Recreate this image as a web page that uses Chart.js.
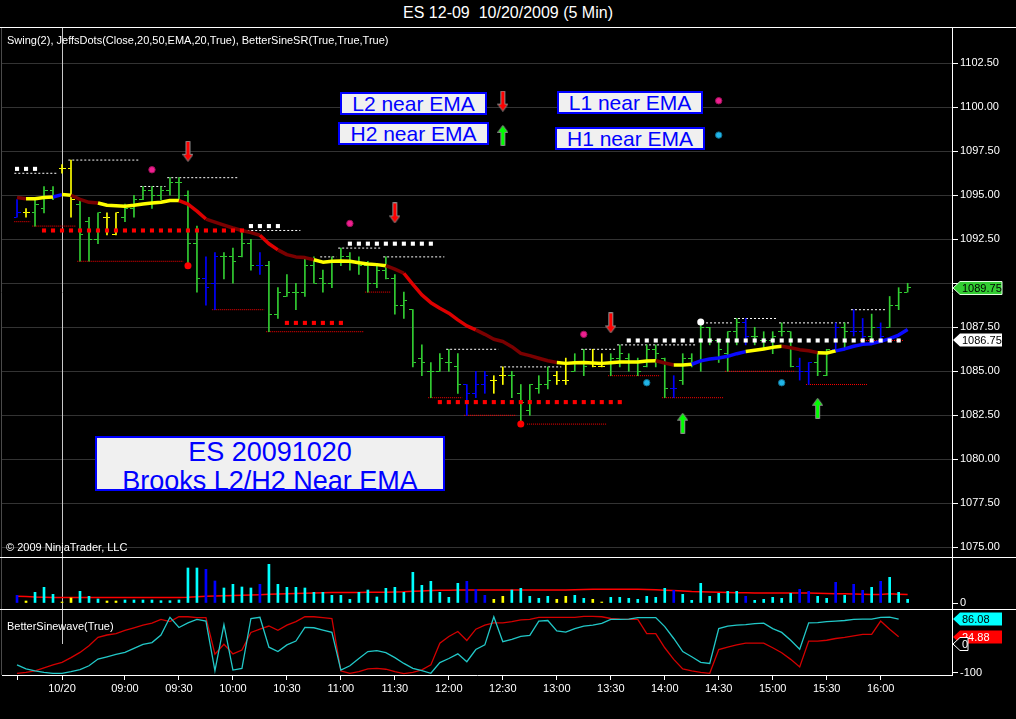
<!DOCTYPE html>
<html>
<head>
<meta charset="utf-8">
<title>ES 12-09 10/20/2009 (5 Min)</title>
<script src="https://cdn.jsdelivr.net/npm/chart.js@4.4.0/dist/chart.umd.min.js"></script>
<style>
  body { margin: 0; background: #000; width: 1016px; height: 719px; overflow: hidden; position: relative;
         font-family: "Liberation Sans", Arial, sans-serif; color: #fff; }
  .panel { position: absolute; left: 0; width: 1016px; }
  #price-panel { top: 27px; height: 530px; }
  #volume-panel { top: 557px; height: 52px; }
  #sine-panel { top: 609px; height: 110px; }
  #title { position: absolute; top: 4px; left: 0; width: 1016px; text-align: center; font-size: 16px; white-space: pre; }
  .label { position: absolute; font-size: 11px; color: #fff; white-space: pre; }
  .note { position: absolute; box-sizing: border-box; background: #f0f0f0; border: 2px solid #0000ff;
          color: #0000ff; font-size: 21px; line-height: 19px; text-align: center; white-space: pre; }
  #es-note { font-size: 27px; line-height: 29px; overflow: hidden; }
</style>
</head>
<body>
<div id="title">ES 12-09  10/20/2009 (5 Min)</div>
<div class="panel" id="price-panel"><canvas id="price-chart"></canvas></div>
<div class="panel" id="volume-panel"><canvas id="volume-chart"></canvas></div>
<div class="panel" id="sine-panel"><canvas id="sine-chart"></canvas></div>

<div class="label" style="left:7px; top:34px;">Swing(2), JeffsDots(Close,20,50,EMA,20,True), BetterSineSR(True,True,True)</div>
<div class="label" style="left:6px; top:541px;">© 2009 NinjaTrader, LLC</div>
<div class="label" style="left:7px; top:620px;">BetterSinewave(True)</div>

<div class="note" style="left:340px; top:92px; width:147px; height:23px;">L2 near EMA</div>
<div class="note" style="left:338px; top:122px; width:151px; height:23px;">H2 near EMA</div>
<div class="note" style="left:557px; top:91px; width:146px; height:23px;">L1 near EMA</div>
<div class="note" style="left:555px; top:127px; width:150px; height:23px;">H1 near EMA</div>
<div class="note" id="es-note" style="left:95px; top:436px; width:350px; height:55px;">ES 20091020
Brooks L2/H2 Near EMA</div>

<script>
// 5 min bars, index 0..99
const xTickBars = [0, 5, 12, 18, 24, 30, 36, 42, 48, 54, 60, 66, 72, 78, 84, 90, 96];
const xTickLabels = ['', '10/20', '09:00', '09:30', '10:00', '10:30', '11:00', '11:30', '12:00',
                     '12:30', '13:00', '13:30', '14:00', '14:30', '15:00', '15:30', '16:00'];
const sessionBar = 5;

const priceTicks = [1075.0, 1077.5, 1080.0, 1082.5, 1085.0, 1087.5, 1090.0, 1092.5, 1095.0, 1097.5, 1100.0, 1102.5];

const opens = [
  1093.75,1094.0,1094.0,1094.25,1095.25,1096.5,1096.5,1094.5,1093.5,1092.5,
  1093.75,1092.75,1093.75,1094.25,1094.75,1095.25,1095.0,1095.25,1095.75,1095.0,
  1092.25,1090.25,1090.0,1091.5,1091.5,1091.5,1092.25,1091.0,1091.0,1088.25,
  1089.25,1089.5,1089.5,1091.0,1090.25,1090.0,1091.25,1091.5,1091.25,1091.0,
  1090.0,1090.75,1090.25,1088.75,1088.5,1085.75,1085.0,1085.0,1085.5,1085.25,
  1084.25,1083.75,1084.25,1084.5,1084.75,1084.75,1083.75,1082.75,1084.0,1084.25,
  1084.75,1084.5,1085.0,1085.5,1085.5,1085.25,1085.5,1085.75,1085.75,1085.5,
  1085.25,1086.25,1085.75,1084.0,1084.5,1085.75,1085.5,1087.5,1086.75,1086.0,
  1087.25,1087.75,1087.0,1086.75,1086.75,1087.25,1087.25,1085.25,1085.0,1085.5,
  1084.75,1086.25,1087.5,1087.25,1087.25,1087.0,1087.5,1087.5,1088.75,1089.5];
const highs = [
  1094.75,1094.25,1094.75,1095.5,1095.5,1096.75,1097.0,1094.75,1093.75,1094.0,
  1094.0,1094.0,1094.5,1095.0,1095.5,1095.5,1095.5,1096.0,1096.0,1095.25,
  1093.25,1091.5,1091.75,1091.75,1092.0,1093.0,1092.5,1091.75,1091.25,1089.75,
  1090.5,1090.0,1091.5,1091.5,1090.75,1091.5,1092.0,1091.75,1091.5,1091.25,
  1091.0,1091.5,1090.5,1089.5,1088.5,1086.5,1085.5,1086.0,1086.25,1086.0,
  1084.25,1085.0,1085.0,1084.75,1085.25,1085.0,1084.25,1084.25,1084.75,1085.25,
  1085.0,1085.75,1086.0,1086.25,1086.25,1086.0,1086.0,1086.5,1086.0,1085.75,
  1086.5,1086.5,1085.75,1084.75,1086.0,1086.0,1087.75,1087.5,1086.75,1087.25,
  1088.0,1088.0,1087.5,1087.25,1087.25,1087.75,1087.25,1085.75,1085.5,1086.0,
  1086.25,1087.75,1087.75,1088.5,1088.0,1088.25,1087.75,1089.25,1089.75,1090.0];
const lows = [
  1093.75,1093.75,1093.25,1094.0,1094.75,1096.25,1093.75,1091.25,1091.25,1092.25,
  1092.75,1092.75,1093.5,1093.75,1094.75,1094.25,1094.75,1095.0,1094.75,1091.0,
  1089.5,1088.75,1088.5,1090.25,1090.0,1091.5,1090.75,1090.5,1087.25,1088.0,
  1089.25,1088.5,1089.25,1090.0,1089.5,1089.75,1091.0,1090.75,1090.5,1089.5,
  1089.75,1090.25,1088.25,1088.0,1085.25,1084.75,1083.5,1085.0,1085.0,1083.75,
  1082.5,1083.5,1083.75,1083.75,1084.25,1083.5,1082.0,1082.5,1083.75,1084.0,
  1084.25,1084.25,1085.0,1084.75,1085.25,1085.25,1084.75,1085.25,1085.0,1084.75,
  1085.25,1085.25,1083.5,1083.5,1084.25,1085.25,1085.0,1086.5,1085.5,1085.0,
  1086.5,1086.5,1086.5,1086.25,1086.0,1087.0,1085.25,1084.5,1084.25,1084.75,
  1084.75,1086.25,1086.25,1087.0,1086.5,1086.75,1086.75,1087.5,1088.5,1089.5];
const closes = [
  1094.0,1094.0,1094.5,1095.25,1095.0,1096.5,1094.75,1092.75,1092.5,1094.0,
  1093.75,1094.0,1094.25,1094.75,1095.25,1095.0,1095.25,1095.75,1095.75,1092.25,
  1090.25,1089.75,1091.5,1091.5,1091.25,1092.25,1091.0,1091.0,1088.25,1089.5,
  1089.5,1089.5,1091.0,1090.0,1090.0,1091.25,1091.5,1091.25,1091.0,1090.0,
  1090.75,1090.25,1088.75,1089.0,1085.5,1085.5,1085.0,1085.75,1085.5,1084.25,
  1083.75,1084.25,1084.75,1084.5,1084.75,1084.75,1083.25,1084.25,1084.25,1084.5,
  1084.5,1084.5,1085.5,1085.25,1085.25,1085.25,1085.75,1086.0,1085.5,1085.0,
  1086.25,1086.0,1084.0,1084.0,1085.75,1085.5,1087.5,1086.75,1086.25,1087.25,
  1087.75,1087.0,1087.0,1086.75,1087.0,1087.25,1085.25,1085.0,1085.5,1085.0,
  1086.25,1087.5,1087.25,1087.25,1087.0,1087.5,1087.0,1088.75,1089.5,1089.75];

// bar class: n = normal, w = weak, d = doji
const barClass = ('wdnnnddnnn' + 'ddnnnnnnnn' + 'nwwnnnnwnn' + 'nnnnnnnnnn' + 'nnnnnnnnnn' +
                  'wwwddnnnnn' + 'ddnnddnnnn' + 'nnnwnnnnnn' + 'nwnnnnnwwn' + 'nwnwwnwnnn').split('');

const ema = [
  1094.87,1094.8,1094.8,1094.87,1094.9,1095.04,1095.0,1094.77,1094.6,1094.56,
  1094.43,1094.41,1094.38,1094.43,1094.5,1094.56,1094.6,1094.7,1094.7,1094.5,
  1094.1,1093.65,1093.47,1093.3,1093.14,1093.0,1092.88,1092.73,1092.25,1091.9,
  1091.63,1091.5,1091.46,1091.34,1091.2,1091.25,1091.27,1091.25,1091.17,1091.1,
  1091.06,1091.0,1090.8,1090.57,1089.94,1089.34,1088.9,1088.58,1088.3,1087.92,
  1087.58,1087.35,1087.1,1086.82,1086.69,1086.4,1086.02,1085.89,1085.74,1085.6,
  1085.5,1085.45,1085.49,1085.5,1085.47,1085.45,1085.49,1085.53,1085.53,1085.53,
  1085.59,1085.6,1085.47,1085.36,1085.36,1085.4,1085.59,1085.7,1085.76,1085.85,
  1086.0,1086.12,1086.19,1086.27,1086.36,1086.42,1086.34,1086.23,1086.17,1086.06,
  1086.04,1086.16,1086.27,1086.42,1086.53,1086.57,1086.7,1086.86,1087.06,1087.37];
// ema trend: d = falling, r = falling fast, f = flat, u = rising
const emaTrend = ('ddfffufddd' + 'fffffffffr' + 'rrddddddrr' + 'ddddffffff' + 'ffddrrrrrr' +
                  'rrdddddddd' + 'dfffffffff' + 'ffddffuuuu' + 'uuffffdddd' + 'ffuuuuuuuu').split('');

// [from bar, to bar, price]
const swingHighs = [[0,4,1096.25],[6,13,1097.0],[14,16,1095.5],[17,24,1096.0],[25,31,1093.0],[34,35,1091.5],
  [36,40,1092.0],[41,47,1091.5],[48,53,1086.25],[54,60,1085.25],[63,66,1086.25],[67,75,1086.5],
  [76,79,1087.75],[80,84,1088.0],[85,92,1087.75],[93,96,1088.5]];
const swingLows = [[0,1,1093.5],[2,6,1093.25],[7,18,1091.25],[22,27,1088.5],[28,38,1087.25],[39,41,1089.5],
  [46,49,1083.5],[50,55,1082.5],[57,65,1082.0],[66,71,1084.75],[72,78,1083.5],[79,86,1085.0],
  [88,94,1084.25],[94,98,1086.75]];
const srResistance = [[0,2,1096.5],[26,29,1093.25],[37,46,1092.25],[68,98,1086.75]];
const srSupport = [[3,25,1093.0],[30,36,1087.75],[47,67,1083.25]];

// [bar, price]
const swingLowDots = [[19,1091.0],[56,1082.0]];
const l1Dots = [[15,1096.45],[37,1093.4],[63,1087.1],[78,1100.37]];
const h1Dots = [[70,1084.35],[85,1084.35],[78,1098.42]];
const pivotDots = [[76,1087.8]];
const l2Arrows = [[19,1097.5],[42,1094.0],[66,1087.75],[54,1100.35]];
const h2Arrows = [[74,1082.05],[89,1082.9],[54,1098.4]];

const volumes = [
  7700,2000,10700,15700,8700,1000,5000,11700,6700,4000,
  2000,2000,3000,3000,3000,3000,2300,2300,3000,35000,
  35000,33700,22000,15000,18700,16000,15000,18700,38700,18700,
  15700,15700,15000,10700,10700,7700,7700,3700,10700,13000,
  6000,14700,15700,10700,30700,17700,21700,10700,5700,19700,
  21700,13700,7700,3700,6700,13000,14700,6700,4700,6700,
  3700,6700,7700,4700,3700,1000,5700,5700,4700,3700,
  6700,5700,14700,12700,8700,2700,19700,6700,9700,11700,
  11700,6700,2700,3700,5700,4700,9700,13700,11700,6700,
  4700,20700,7700,18700,12700,15700,21700,25700,10700,3700];
const volumeAvg = [
  6700,6500,6000,5700,5500,5500,5500,5500,5500,5500,
  5500,5500,5500,5500,5500,5500,5500,5500,5500,5800,
  6300,6700,7000,7300,7600,7800,8000,8300,8700,9000,
  9300,9600,9800,10000,10300,10400,10500,10500,10600,10700,
  10700,10800,11000,11200,11700,12000,12400,12700,12800,12900,
  13000,13000,13000,13000,13000,13000,13000,13000,13000,13000,
  13000,13000,13200,13500,13700,13700,13700,13700,13700,13700,
  13500,13200,12800,12400,12000,11500,11200,11000,10800,10500,
  10300,10200,10100,10000,10000,10000,10000,10000,10000,9800,
  9500,9300,9200,9000,8800,8600,8500,9200,8800,8500];

const sineWave = [
  -72,-86,-93,-98,-101,-101,-95,-88,-75,-52,
  -44,-36,-29,-15,-1,5,31,92,57,73,
  85,79,-92,67,-90,-84,88,92,-11,-26,
  -3,10,57,56,48,40,-90,-75,-50,-26,
  -23,-30,-47,-67,-84,-92,-101,-64,-50,-34,
  -61,-19,-3,94,8,16,26,30,79,81,
  45,41,53,62,65,71,85,85,86,91,
  91,91,60,19,-26,-44,-63,-67,53,62,
  65,67,70,72,53,40,13,-18,73,74,
  77,79,81,85,86,86,92,93,86.08,null];
const leadSine = [
  -101,-98,-93,-82,-72,-63,-47,-29,-6,23,
  31,36,47,56,65,72,85,77,94,94,
  91,91,-35,-1,-34,-21,40,51,62,47,
  65,77,94,94,91,88,-93,-101,-95,-86,
  -84,-87,-95,-102,-98,-89,-72,3,26,43,
  12,51,65,73,73,77,83,85,92,92,
  92,92,92,95,95,94,88,86,85,85,
  36,36,-13,-53,-86,-93,-98,-101,-19,-11,
  -3,3,3,3,-13,-30,-53,-79,10,10,
  13,19,23,28,33,33,79,51,24.88,null];

Chart.defaults.font.family = '"Liberation Sans", Arial, sans-serif';
Chart.defaults.font.size = 11;
Chart.defaults.color = '#ffffff';

const X_MIN = -1.67, X_MAX = 103.93;
const AXIS_W = 64;
const BAR_COLORS = { n: '#32cd32', w: '#0000ff', d: '#ffff00' };
const VOL_COLORS = { n: '#00ffff', w: '#0000ff', d: '#ffff00' };
const EMA_COLORS = { d: '#7a0000', r: '#dd0000', f: '#ffff00', u: '#0a0aff' };

const lastClose = closes[closes.length - 1];
const lastLevel = srResistance[srResistance.length - 1][2];

function tickImage(color, side) {
    const c = document.createElement('canvas');
    c.width = 7; c.height = 1;
    const g = c.getContext('2d');
    g.fillStyle = color;
    g.fillRect(side === 'open' ? 0 : 4, 0, 3, 1);
    return c;
}

function arrowImage(color, dir) {
    const c = document.createElement('canvas');
    c.width = 11; c.height = 21;
    const g = c.getContext('2d');
    if (dir === 'up') { g.translate(0, 21); g.scale(1, -1); }
    g.beginPath();
    g.moveTo(3.5, 0.5); g.lineTo(7.5, 0.5); g.lineTo(7.5, 13.5); g.lineTo(10.5, 13.5);
    g.lineTo(5.5, 20.5); g.lineTo(0.5, 13.5); g.lineTo(3.5, 13.5); g.closePath();
    g.fillStyle = color; g.fill();
    g.strokeStyle = '#8c8c8c'; g.lineWidth = 1; g.stroke();
    return c;
}

const openTicks = {}, closeTicks = {};
Object.keys(BAR_COLORS).forEach(k => {
    openTicks[k] = tickImage(BAR_COLORS[k], 'open');
    closeTicks[k] = tickImage(BAR_COLORS[k], 'close');
});
const downArrow = arrowImage('#ff0000', 'down');
const upArrow = arrowImage('#00ff00', 'up');

const pts = list => list.map(([x, y]) => ({ x, y }));
const series = values => values.map((y, x) => ({ x, y }));

function levelLines(levels) {
    const out = [];
    levels.forEach(([from, to, price]) => {
        out.push({ x: from - 0.3, y: price }, { x: to + 0.5, y: price }, { x: to + 0.5, y: null });
    });
    return out;
}

function levelSquares(levels) {
    const out = [];
    levels.forEach(([from, to, price]) => {
        for (let b = from; b <= to; b++) out.push({ x: b, y: price });
    });
    return out;
}

// no label padding, so every panel uses its full height / width
function noPadding(s) {
    s.paddingTop = 0; s.paddingBottom = 0; s.paddingLeft = 0; s.paddingRight = 0;
}

// white frame line on top of every panel
const panelFrame = {
    id: 'panelFrame',
    afterDraw(chart) {
        const { ctx, chartArea, width } = chart;
        ctx.save();
        ctx.strokeStyle = '#ffffff';
        ctx.lineWidth = 1;
        ctx.beginPath(); ctx.moveTo(0, 0.5); ctx.lineTo(width, 0.5); ctx.stroke();
        ctx.strokeStyle = '#4a4a4a';
        ctx.beginPath(); ctx.moveTo(1.5, 1); ctx.lineTo(1.5, chartArea.bottom); ctx.stroke();
        ctx.restore();
    }
};

const sessionBreak = {
    id: 'sessionBreak',
    beforeDatasetsDraw(chart, args, opts) {
        const { ctx, chartArea, scales } = chart;
        const x = Math.round(scales.x.getPixelForValue(opts.bar)) + 0.5;
        const yEnd = opts.until === undefined ? chartArea.bottom : scales.y.getPixelForValue(opts.until);
        ctx.save();
        ctx.strokeStyle = '#c8c8c8';
        ctx.lineWidth = 1;
        ctx.beginPath(); ctx.moveTo(x, chartArea.top + 1); ctx.lineTo(x, yEnd); ctx.stroke();
        ctx.restore();
    }
};

// last value tags on the right axis
const valueTags = {
    id: 'valueTags',
    afterDraw(chart, args, opts) {
        const { ctx, chartArea, scales } = chart;
        (opts.tags || []).forEach(t => {
            const y = Math.round(scales.y.getPixelForValue(t.value));
            const x0 = chartArea.right + 1, x1 = x0 + 7, x2 = x0 + (t.width || 49);
            ctx.save();
            ctx.beginPath();
            ctx.moveTo(x0, y); ctx.lineTo(x1, y - 6.5); ctx.lineTo(x2, y - 6.5);
            ctx.lineTo(x2, y + 6.5); ctx.lineTo(x1, y + 6.5); ctx.closePath();
            ctx.fillStyle = t.fill; ctx.fill();
            if (t.stroke) { ctx.strokeStyle = t.stroke; ctx.lineWidth = 1; ctx.stroke(); }
            ctx.fillStyle = t.color;
            ctx.font = '11px "Liberation Sans", Arial, sans-serif';
            ctx.textBaseline = 'middle';
            ctx.fillText(t.label, x0 + 9, y + 0.5);
            ctx.restore();
        });
    }
};

function rightAxis(min, max, tickValues, format, gridOnArea) {
    return {
        type: 'linear', position: 'right', min, max,
        afterFit: s => { s.width = AXIS_W; noPadding(s); },
        afterBuildTicks: s => { s.ticks = tickValues.map(v => ({ value: v })); },
        ticks: { color: '#ffffff', padding: 2, autoSkip: false, callback: v => format(v) },
        grid: { color: '#333333', drawOnChartArea: gridOnArea, tickColor: '#ffffff', tickLength: 6 },
        border: { color: '#ffffff' }
    };
}

// price labels hidden where the last-price tag sits on top of them
const priceLabel = v => (Math.abs(v - lastClose) < 0.5 ? '' : v.toFixed(2));

const hiddenX = { type: 'linear', min: X_MIN, max: X_MAX, offset: false, display: false, ticks: { display: false } };
const baseOptions = {
    responsive: true, maintainAspectRatio: false, devicePixelRatio: 1, animation: false, events: [],
    layout: { autoPadding: false, padding: { left: 2, right: 0, top: 0, bottom: 0 } }
};

new Chart(document.getElementById('price-chart'), {
    type: 'line',
    data: {
        datasets: [
            { type: 'scatter', data: pts(l2Arrows), pointStyle: downArrow, radius: 1 },
            { type: 'scatter', data: pts(h2Arrows), pointStyle: upArrow, radius: 1 },
            { type: 'scatter', data: pts(swingLowDots), pointStyle: 'circle', radius: 3.5, backgroundColor: '#ff0000', borderWidth: 0 },
            { type: 'scatter', data: pts(l1Dots), pointStyle: 'circle', radius: 3.2, backgroundColor: '#ee2090', borderColor: '#a0105a', borderWidth: 1 },
            { type: 'scatter', data: pts(h1Dots), pointStyle: 'circle', radius: 3.2, backgroundColor: '#20b4e8', borderColor: '#107090', borderWidth: 1 },
            { type: 'scatter', data: pts(pivotDots), pointStyle: 'circle', radius: 3.5, backgroundColor: '#ffffff', borderWidth: 0 },
            { type: 'scatter', data: levelSquares(srResistance), pointStyle: 'rect', radius: 2.9, backgroundColor: '#ffffff', borderWidth: 0 },
            { type: 'scatter', data: levelSquares(srSupport), pointStyle: 'rect', radius: 2.9, backgroundColor: '#ff0000', borderWidth: 0 },
            {
                type: 'line', data: series(ema), borderWidth: 3.5, pointRadius: 0, borderColor: '#7a0000',
                borderJoinStyle: 'round',
                segment: { borderColor: c => EMA_COLORS[emaTrend[c.p1DataIndex]] }
            },
            { type: 'scatter', data: series(opens), radius: 1, pointStyle: c => openTicks[barClass[c.dataIndex]] },
            { type: 'scatter', data: series(closes), radius: 1, pointStyle: c => closeTicks[barClass[c.dataIndex]] },
            {
                type: 'bar', data: highs.map((h, i) => ({ x: i, y: [lows[i], h] })),
                backgroundColor: c => BAR_COLORS[barClass[c.dataIndex]], barThickness: 1, borderWidth: 0
            },
            { type: 'line', data: levelLines(swingHighs), borderColor: '#ffffff', borderWidth: 1, borderDash: [2, 2], pointRadius: 0, spanGaps: false },
            { type: 'line', data: levelLines(swingLows), borderColor: '#ff0000', borderWidth: 1, borderDash: [1, 1], pointRadius: 0, spanGaps: false }
        ]
    },
    options: {
        ...baseOptions,
        plugins: {
            legend: { display: false }, tooltip: { enabled: false },
            sessionBreak: { bar: sessionBar },
            valueTags: {
                tags: [
                    { value: lastClose, label: lastClose.toFixed(2), fill: '#32cd32', color: '#000000', stroke: '#e0ffe0' },
                    { value: lastLevel, label: lastLevel.toFixed(2), fill: '#ffffff', color: '#000000' }
                ]
            }
        },
        scales: {
            x: hiddenX,
            y: rightAxis(1074.45, 1104.56, priceTicks, priceLabel, true)
        }
    },
    plugins: [panelFrame, sessionBreak, valueTags]
});

new Chart(document.getElementById('volume-chart'), {
    type: 'line',
    data: {
        datasets: [
            {
                type: 'bar', data: series(volumes), barThickness: 2, borderWidth: 0,
                backgroundColor: c => VOL_COLORS[barClass[c.dataIndex]]
            },
            { type: 'line', data: series(volumeAvg), borderColor: '#ff0000', borderWidth: 1.5, pointRadius: 0 }
        ]
    },
    options: {
        ...baseOptions,
        plugins: { legend: { display: false }, tooltip: { enabled: false }, sessionBreak: { bar: sessionBar } },
        scales: {
            x: hiddenX,
            y: rightAxis(-6000, 46000, [0], v => String(v), false)
        }
    },
    plugins: [panelFrame, sessionBreak]
});

const lastOf = arr => arr.filter(v => v !== null).slice(-1)[0];

new Chart(document.getElementById('sine-chart'), {
    type: 'line',
    data: {
        datasets: [
            { type: 'line', data: series(sineWave), borderColor: '#22c8c8', borderWidth: 1.3, pointRadius: 0 },
            { type: 'line', data: series(leadSine), borderColor: '#d40000', borderWidth: 1.3, pointRadius: 0 }
        ]
    },
    options: {
        ...baseOptions,
        plugins: {
            legend: { display: false }, tooltip: { enabled: false },
            sessionBreak: { bar: sessionBar, until: 0 },
            valueTags: {
                tags: [
                    { value: lastOf(sineWave), label: lastOf(sineWave).toFixed(2), fill: '#00ffff', color: '#000000' },
                    { value: lastOf(leadSine), label: lastOf(leadSine).toFixed(2), fill: '#ff0000', color: '#ffffff' },
                    { value: 0, label: '0', fill: '#000000', color: '#ffffff', stroke: '#ffffff', width: 15 }
                ]
            }
        },
        scales: {
            x: {
                type: 'linear', min: X_MIN, max: X_MAX, offset: false, position: 'bottom',
                afterFit: s => { s.height = 44; noPadding(s); },
                afterBuildTicks: s => { s.ticks = xTickBars.map(v => ({ value: v })); },
                ticks: { autoSkip: false, maxRotation: 0, padding: 2, color: '#ffffff',
                         callback: v => xTickLabels[xTickBars.indexOf(v)] },
                grid: { drawOnChartArea: false, tickColor: '#ffffff', tickLength: 5 },
                border: { color: '#ffffff' }
            },
            y: rightAxis(-106.9, 120.7, [-100, 0], v => String(v), false)
        }
    },
    plugins: [panelFrame, sessionBreak, valueTags]
});
</script>
</body>
</html>
